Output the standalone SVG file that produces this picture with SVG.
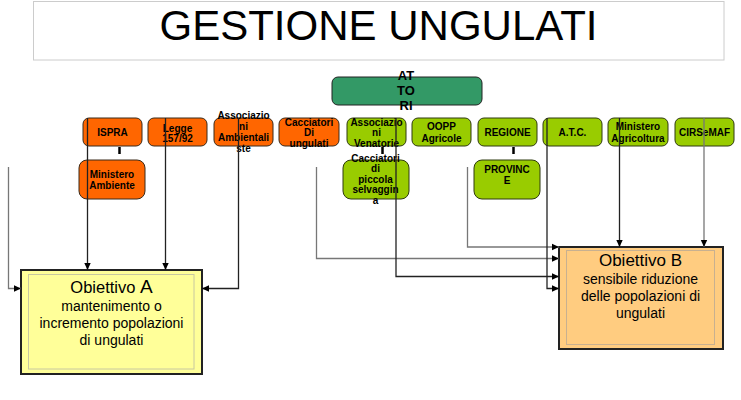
<svg xmlns="http://www.w3.org/2000/svg" width="741" height="400" viewBox="0 0 741 400">
<defs>
<marker id="arr" markerUnits="userSpaceOnUse" markerWidth="8" markerHeight="8" refX="7" refY="4" orient="auto">
<path d="M0,0.8 L7,4 L0,7.2 Z" fill="#000"/>
</marker>
</defs>
<style>
text{font-family:"Liberation Sans",Arial,sans-serif;fill:#000}
.lbl{font-size:10px;font-weight:bold;text-anchor:middle}
.or{fill:#FF6600;stroke:#3a2a1a;stroke-width:1}
.gr{fill:#99CC00;stroke:#2f3a10;stroke-width:1}
.tick{stroke:#000;stroke-width:2.5}
.c{fill:none;stroke-width:1.3}
.dk{stroke:#222}
.lt{stroke:#777}
.obj{font-size:14px;text-anchor:middle}
</style>
<rect width="741" height="400" fill="#fff"/>
<g id="title">
<rect x="33.5" y="1.5" width="690.5" height="58.5" fill="#fff" stroke="#cccccc" stroke-width="1"/>
<text x="378.5" y="40" font-size="42" text-anchor="middle">GESTIONE UNGULATI</text>
</g>
<g id="attori">
<rect x="332" y="77" width="150" height="28" rx="6" fill="#339966" stroke="#222" stroke-width="1"/>
<text x="406" y="80" font-size="13" font-weight="bold" text-anchor="middle">AT</text>
<text x="406" y="95" font-size="13" font-weight="bold" text-anchor="middle">TO</text>
<text x="406" y="110" font-size="13" font-weight="bold" text-anchor="middle">RI</text>
</g>
<g id="ispra">
<rect class="or" x="83" y="118" width="59" height="28" rx="6"/>
<text class="lbl" x="112.5" y="136">ISPRA</text>
</g>
<g id="legge">
<rect class="or" x="148" y="118" width="59" height="28" rx="6"/>
<text class="lbl" x="177.5" y="131.5">Legge</text>
<text class="lbl" x="177.5" y="142">157/92</text>
</g>
<g id="assamb">
<rect class="or" x="214" y="118" width="59" height="28" rx="6"/>
<text class="lbl" x="243.5" y="119">Associazio</text>
<text class="lbl" x="243.5" y="130">ni</text>
<text class="lbl" x="243.5" y="141">Ambientali</text>
<text class="lbl" x="243.5" y="151.5">ste</text>
</g>
<g id="cacung">
<rect class="or" x="279" y="118" width="60" height="28" rx="6"/>
<text class="lbl" x="309" y="125.5">Cacciatori</text>
<text class="lbl" x="309" y="136">Di</text>
<text class="lbl" x="309" y="146.5">ungulati</text>
</g>
<g id="assven">
<rect class="gr" x="347" y="118" width="59" height="28" rx="6"/>
<text class="lbl" x="376.5" y="125.5">Associazio</text>
<text class="lbl" x="376.5" y="136">ni</text>
<text class="lbl" x="376.5" y="146.5">Venatorie</text>
</g>
<g id="oopp">
<rect class="gr" x="412" y="118" width="59" height="28" rx="6"/>
<text class="lbl" x="441.5" y="130">OOPP</text>
<text class="lbl" x="441.5" y="141.5">Agricole</text>
</g>
<g id="regione">
<rect class="gr" x="478" y="118" width="59" height="28" rx="6"/>
<text class="lbl" x="507.5" y="136">REGIONE</text>
</g>
<g id="atc">
<rect class="gr" x="543" y="118" width="59" height="28" rx="6"/>
<text class="lbl" x="572.5" y="136">A.T.C.</text>
</g>
<g id="minagr">
<rect class="gr" x="608" y="118" width="60" height="28" rx="6"/>
<text class="lbl" x="638" y="130">Ministero</text>
<text class="lbl" x="638" y="141.5">Agricoltura</text>
</g>
<g id="cirsemaf">
<rect class="gr" x="675" y="118" width="59" height="28" rx="6"/>
<text class="lbl" x="704.5" y="136">CIRSeMAF</text>
</g>
<g id="minamb">
<rect class="or" x="79" y="160" width="66" height="39" rx="8"/>
<text class="lbl" x="112" y="177.5">Ministero</text>
<text class="lbl" x="112" y="188.5">Ambiente</text>
</g>
<g id="cacpic">
<rect class="gr" x="343" y="160" width="66" height="39" rx="8"/>
<text class="lbl" x="375.5" y="161.5">Cacciatori</text>
<text class="lbl" x="375.5" y="172">di</text>
<text class="lbl" x="375.5" y="182.5">piccola</text>
<text class="lbl" x="375.5" y="193">selvaggin</text>
<text class="lbl" x="375.5" y="204">a</text>
</g>
<g id="province">
<rect class="gr" x="474" y="160" width="66" height="39" rx="8"/>
<text class="lbl" x="507" y="172.5">PROVINC</text>
<text class="lbl" x="507" y="183.5">E</text>
</g>
<g id="objA">
<rect x="21" y="270" width="181" height="104" fill="#FFFF99" stroke="#222" stroke-width="2"/>
<rect x="28.5" y="274.5" width="165.5" height="94.5" fill="none" stroke="#c8c8a0" stroke-width="1"/>
<text x="111.5" y="292.5" text-anchor="middle"><tspan font-size="16.5">Obiettivo </tspan><tspan font-size="19">A</tspan></text>
<text class="obj" x="111.5" y="311">mantenimento o</text>
<text class="obj" x="111.5" y="328">incremento popolazioni</text>
<text class="obj" x="111.5" y="344.5">di ungulati</text>
</g>
<g id="objB">
<rect x="559" y="247" width="164" height="102" fill="#FFCC80" stroke="#222" stroke-width="2"/>
<rect x="566.5" y="250.5" width="148" height="94" fill="none" stroke="#c8b090" stroke-width="1"/>
<text x="640.5" y="265.5" font-size="17" text-anchor="middle">Obiettivo B</text>
<text class="obj" x="640.5" y="283.5">sensibile riduzione</text>
<text class="obj" x="640.5" y="300.5">delle popolazioni di</text>
<text class="obj" x="640.5" y="317.5">ungulati</text>
</g>
<g id="connectors">
<line class="tick" x1="119.5" y1="147" x2="119.5" y2="154"/>
<line class="tick" x1="382.5" y1="147" x2="382.5" y2="154"/>
<line class="tick" x1="513.5" y1="147" x2="513.5" y2="154"/>
<path class="c lt" d="M8.5,167 V288.5 H21" marker-end="url(#arr)"/>
<path class="c dk" d="M87.5,118 V270" marker-end="url(#arr)"/>
<path class="c dk" d="M165.5,118 V270" marker-end="url(#arr)"/>
<path class="c dk" d="M238.5,118 V288.5 H202" marker-end="url(#arr)"/>
<path class="c lt" d="M316.5,167 V258.5 H559" marker-end="url(#arr)"/>
<path class="c dk" d="M396,118 V276.5 H559" marker-end="url(#arr)"/>
<path class="c lt" d="M467.5,167 V247 H559" marker-end="url(#arr)"/>
<path class="c dk" d="M547,118 V288.5 H559" marker-end="url(#arr)"/>
<path class="c dk" d="M619.5,118 V247" marker-end="url(#arr)"/>
<path class="c lt" d="M704,118 V247" marker-end="url(#arr)"/>
</g>
</svg>
